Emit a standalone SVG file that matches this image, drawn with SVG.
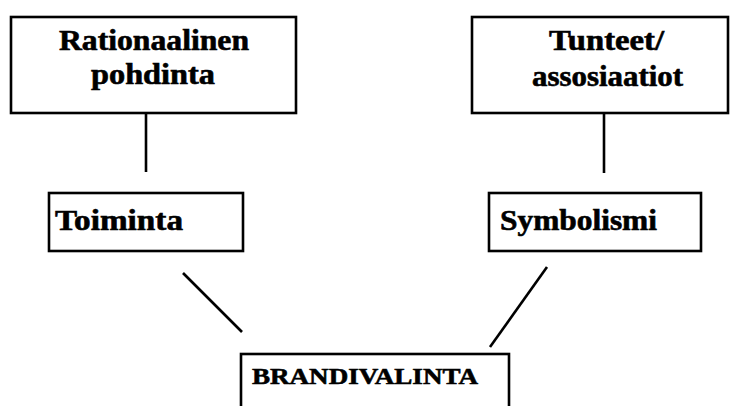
<svg xmlns="http://www.w3.org/2000/svg" width="731" height="406" viewBox="0 0 731 406">
  <style>
    .box { fill: #ffffff; stroke: #000000; stroke-width: 2.6; }
    .link { stroke: #000000; stroke-width: 2.6; fill: none; }
    .label { font-family: "Liberation Serif", "Times New Roman", serif; font-weight: bold; fill: #000000; stroke: #000000; stroke-width: 0.6; }
    .big { font-size: 29px; }
    .small { font-size: 24px; }
  </style>
  <rect width="731" height="406" fill="#ffffff"/>

  <g id="connectors">
    <line class="link" x1="146" y1="113" x2="146" y2="172"/>
    <line class="link" x1="604" y1="113" x2="604" y2="173"/>
    <line class="link" x1="183" y1="273" x2="242" y2="332"/>
    <line class="link" x1="547" y1="267" x2="490" y2="347"/>
  </g>

  <g id="rationaalinen">
    <rect class="box" x="11" y="17" width="285" height="96"/>
    <text class="label big" x="59" y="50" textLength="190" lengthAdjust="spacingAndGlyphs">Rationaalinen</text>
    <text class="label big" x="91" y="84" textLength="124" lengthAdjust="spacingAndGlyphs">pohdinta</text>
  </g>

  <g id="tunteet">
    <rect class="box" x="472" y="17" width="256" height="96"/>
    <text class="label big" x="549" y="50" textLength="115" lengthAdjust="spacingAndGlyphs">Tunteet/</text>
    <text class="label big" x="532" y="86" textLength="151" lengthAdjust="spacingAndGlyphs">assosiaatiot</text>
  </g>

  <g id="toiminta">
    <rect class="box" x="49" y="193" width="194" height="58"/>
    <text class="label big" x="55" y="230" textLength="128" lengthAdjust="spacingAndGlyphs">Toiminta</text>
  </g>

  <g id="symbolismi">
    <rect class="box" x="489" y="193" width="212" height="58"/>
    <text class="label big" x="500" y="230" textLength="157" lengthAdjust="spacingAndGlyphs">Symbolismi</text>
  </g>

  <g id="brandivalinta">
    <rect class="box" x="241" y="354" width="268" height="70"/>
    <text class="label small" x="252" y="384" textLength="226" lengthAdjust="spacingAndGlyphs">BRANDIVALINTA</text>
  </g>
</svg>
